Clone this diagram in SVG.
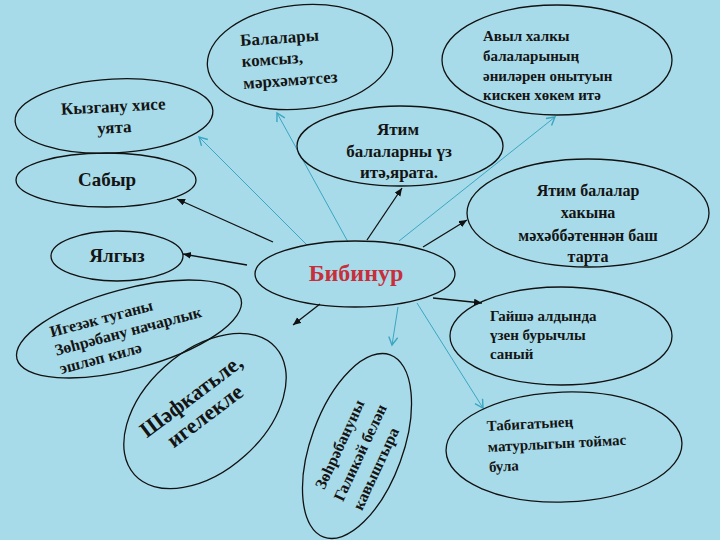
<svg xmlns="http://www.w3.org/2000/svg" width="720" height="540" viewBox="0 0 720 540">
<defs>
<style>
.e{fill:none;stroke:#111;stroke-width:1.3}
.t{font-family:"Liberation Serif","DejaVu Serif",serif;font-weight:bold;fill:#141414}
.m{text-anchor:middle}
.k{stroke:#111;stroke-width:1.3;fill:none;marker-end:url(#ab)}
.c{stroke:#3aa6c2;stroke-width:1;fill:none;marker-end:url(#ac)}
</style>
<marker id="ab" markerUnits="userSpaceOnUse" markerWidth="10" markerHeight="8" refX="8" refY="3.5" orient="auto"><path d="M0,0 L8,3.5 L0,7 z" fill="#111"/></marker>
<marker id="ac" markerUnits="userSpaceOnUse" markerWidth="12" markerHeight="12" refX="9" refY="5" orient="auto"><path d="M1,0.5 L9,5 L1,9.5" fill="none" stroke="#3aa6c2" stroke-width="1.4"/></marker>
</defs>
<rect width="720" height="540" fill="#a8dbe9"/>
<g id="connectors">
<line class="k" x1="273" y1="242" x2="177" y2="199"/>
<line class="k" x1="247" y1="265" x2="183" y2="254"/>
<line class="k" x1="367" y1="240" x2="402" y2="188"/>
<line class="k" x1="423" y1="247" x2="467" y2="220"/>
<line class="k" x1="433" y1="298" x2="482" y2="303"/>
<line class="k" x1="320" y1="304" x2="293" y2="325"/>
<line class="c" x1="307" y1="245" x2="199" y2="137"/>
<line class="c" x1="348" y1="242" x2="277" y2="113"/>
<line class="c" x1="399" y1="241" x2="555" y2="117"/>
<line class="c" x1="398" y1="307" x2="392" y2="345"/>
<line class="c" x1="417" y1="303" x2="483" y2="408"/>
</g>
<g id="n-center">
<ellipse class="e" cx="355" cy="274" rx="100" ry="33"/>
<text class="t m" x="356" y="281" font-size="24" style="fill:#c62f3b">Бибинур</text>
</g>
<g id="n-komsyz">
<ellipse class="e" cx="300" cy="57" rx="93" ry="52" transform="rotate(-6 300 57)"/>
<g transform="rotate(-4 242 66)">
<text class="t" x="242" y="46" font-size="17">Балалары</text>
<text class="t" x="242" y="67" font-size="17">комсыз,</text>
<text class="t" x="242" y="89" font-size="17">мәрхәмәтсез</text>
</g>
</g>
<g id="n-kyzganu">
<ellipse class="e" cx="114" cy="116" rx="99" ry="37" transform="rotate(-3 114 116)"/>
<g transform="rotate(-3 114 120)">
<text class="t m" x="114" y="112" font-size="17">Кызгану хисе</text>
<text class="t m" x="114" y="133" font-size="17">уята</text>
</g>
</g>
<g id="n-sabyr">
<ellipse class="e" cx="106" cy="180" rx="90" ry="27"/>
<text class="t m" x="107" y="186" font-size="19">Сабыр</text>
</g>
<g id="n-yalgyz">
<ellipse class="e" cx="117" cy="256" rx="66" ry="25"/>
<text class="t m" x="117" y="262" font-size="19">Ялгыз</text>
</g>
<g id="n-igezek" transform="translate(129 329) rotate(-15)">
<ellipse class="e" cx="0" cy="0" rx="116" ry="40"/>
<text class="t" x="-77" y="-12" font-size="16">Игезәк туганы</text>
<text class="t" x="-77" y="7" font-size="16">Зөһрәбану начарлык</text>
<text class="t" x="-77" y="26" font-size="16">эшләп килә</text>
</g>
<g id="n-shefkat">
<ellipse class="e" cx="205" cy="411" rx="95" ry="60" transform="rotate(-42 205 411)"/>
<g transform="translate(205 411) rotate(-37)">
<text class="t m" x="-2" y="-13" font-size="22">Шәфкатьле,</text>
<text class="t m" x="-3" y="11" font-size="22">игелекле</text>
</g>
</g>
<g id="n-zohra">
<ellipse class="e" cx="357" cy="446" rx="97" ry="46" transform="rotate(-70 357 446)"/>
<g transform="translate(357 446) rotate(-65)">
<text class="t" x="-54" y="-11" font-size="16">Зөһрәбануны</text>
<text class="t" x="-57" y="11" font-size="16">Галикәй белән</text>
<text class="t" x="-57" y="32" font-size="16">кавыштыра</text>
</g>
</g>
<g id="n-yatim1">
<ellipse class="e" cx="400" cy="146" rx="103" ry="40"/>
<text class="t m" x="398" y="135" font-size="17">Ятим</text>
<text class="t m" x="399" y="157" font-size="17">балаларны үз</text>
<text class="t m" x="399" y="178" font-size="17">итә,ярата.</text>
</g>
<g id="n-avyl">
<ellipse class="e" cx="557" cy="60" rx="115" ry="55"/>
<text class="t" x="483" y="41" font-size="15">Авыл халкы</text>
<text class="t" x="483" y="61" font-size="15">балаларының</text>
<text class="t" x="483" y="81" font-size="15">әниләрен онытуын</text>
<text class="t" x="483" y="100" font-size="15">кискен хөкем итә</text>
</g>
<g id="n-yatim2">
<ellipse class="e" cx="588" cy="213" rx="121" ry="54"/>
<text class="t m" x="588" y="196" font-size="16">Ятим балалар</text>
<text class="t m" x="588" y="218" font-size="16">хакына</text>
<text class="t m" x="588" y="241" font-size="16">мәхәббәтеннән баш</text>
<text class="t m" x="588" y="262" font-size="16">тарта</text>
</g>
<g id="n-gayshe">
<ellipse class="e" cx="561" cy="336" rx="111" ry="49"/>
<text class="t" x="490" y="321" font-size="15">Гайшә алдында</text>
<text class="t" x="490" y="340" font-size="15">үзен бурычлы</text>
<text class="t" x="490" y="359" font-size="15">саный</text>
</g>
<g id="n-tabigat">
<ellipse class="e" cx="564" cy="447" rx="118" ry="55" transform="rotate(-2 564 447)"/>
<g transform="rotate(-3 488 450)">
<text class="t" x="488" y="431" font-size="15">Табигатьнең</text>
<text class="t" x="488" y="452" font-size="15">матурлыгын тоймас</text>
<text class="t" x="488" y="472" font-size="15">була</text>
</g>
</g>
</svg>
